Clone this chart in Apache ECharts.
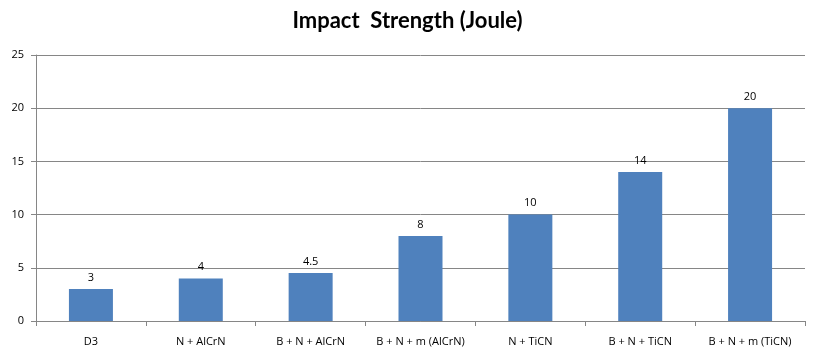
<!DOCTYPE html>
<html><head><meta charset="utf-8">
<script src="https://cdn.jsdelivr.net/npm/echarts@6/dist/echarts.min.js"></script>
<style>html,body{margin:0;padding:0;background:#fff}#c{width:815px;height:361px}</style>
</head><body><div id="c"></div>
<script>
const categories = ["D3", "N + AlCrN", "B + N + AlCrN", "B + N + m (AlCrN)", "N + TiCN", "B + N + TiCN", "B + N + m (TiCN)"];
const values = [3, 4, 4.5, 8, 10, 14, 20];
const yTicks = [0, 5, 10, 15, 20, 25];
const titleText = "Impact  Strength (Joule)";

const chart = echarts.init(document.getElementById('c'), null, {renderer: 'canvas'});
chart.setOption({
  animation: false,
  backgroundColor: '#fff',
  title: {
    text: titleText, left: 'center', top: 5,
    textStyle: {fontFamily: 'Lato', fontWeight: 'bold', fontSize: 22, color: '#000'}
  },
  grid: {left: 36, right: 10, top: 55, bottom: 40, containLabel: false},
  xAxis: {
    type: 'category', data: categories,
    axisLine: {lineStyle: {color: '#868686', width: 1}},
    axisTick: {show: true, alignWithLabel: false, length: 5, lineStyle: {color: '#868686'}},
    axisLabel: {fontFamily: 'Open Sans', fontSize: 11, color: '#000', margin: 15, interval: 0}
  },
  yAxis: {
    type: 'value', min: yTicks[0], max: yTicks[yTicks.length - 1], interval: 5,
    axisLine: {show: true, lineStyle: {color: '#868686', width: 1}},
    axisTick: {show: true, length: 5, lineStyle: {color: '#868686'}},
    splitLine: {lineStyle: {color: '#868686', width: 1}},
    axisLabel: {fontFamily: 'Open Sans', fontSize: 11, color: '#000', margin: 12}
  },
  series: [{
    type: 'bar', data: values, barWidth: 44,
    itemStyle: {color: '#4F81BD'},
    label: {show: true, position: 'top', distance: 6, fontFamily: 'Open Sans', fontSize: 11, color: '#000'}
  }]
});
</script></body></html>
